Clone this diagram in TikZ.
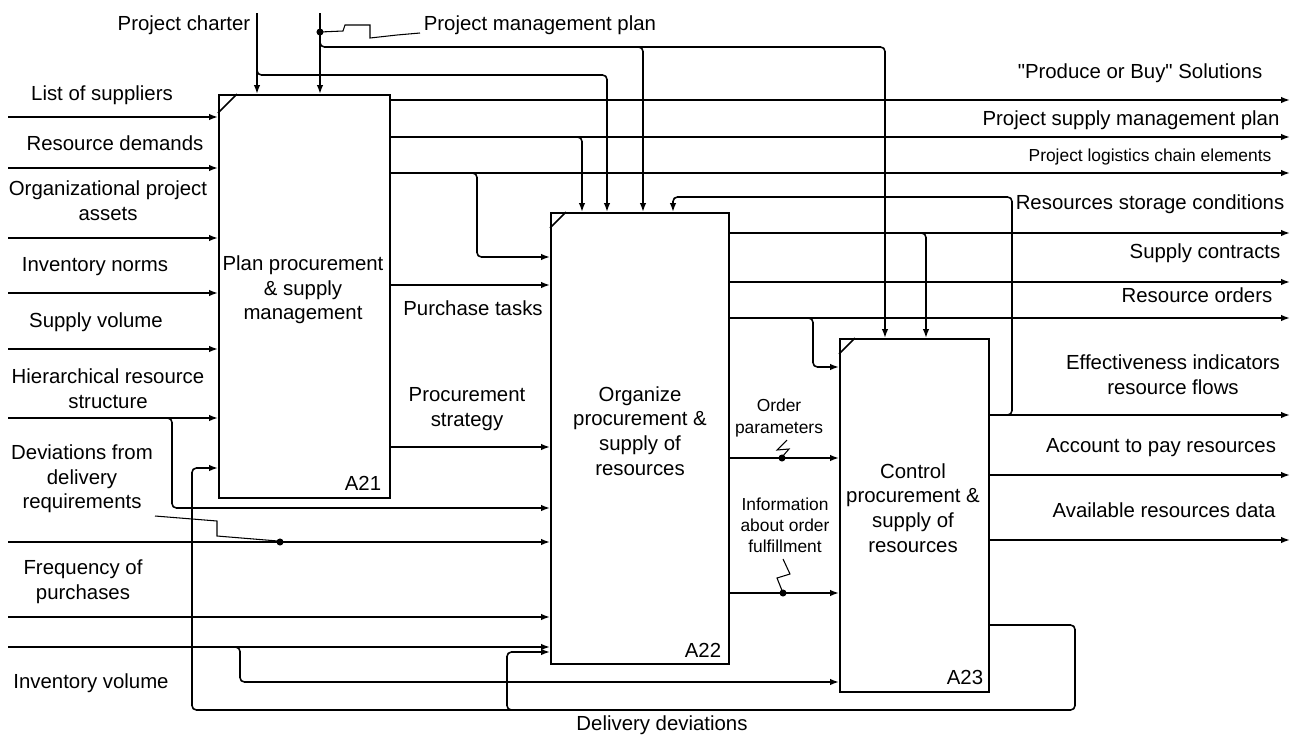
\documentclass[tikz,border=0pt]{standalone}
\usepackage{fontspec}
\setmainfont{Liberation Sans}[Ligatures=TeXOff]
\usetikzlibrary{arrows.meta}
\begin{document}
\begin{tikzpicture}[x=0.02cm,y=-0.02cm,
  line width=0.9pt,
  arr/.style={-{Latex[length=5pt,width=3.6pt]}},
  box/.style={draw, line width=1pt, anchor=north west, inner sep=0pt},
  big/.style={font=\fontsize{11.6}{14}\selectfont, align=center, inner sep=0pt},
  small/.style={font=\fontsize{9.9}{12}\selectfont, align=center, inner sep=0pt},
  rc/.style={rounded corners=2.5pt},
  lead/.style={line width=0.6pt},
  dot/.style={circle, fill, inner sep=0pt, minimum size=4pt}
]
\useasboundingbox (0,0) rectangle (1295,738);

% activity boxes
\node[box, minimum width=3.42cm, minimum height=8.06cm] (A21) at (218,94) {};
\node[box, minimum width=3.56cm, minimum height=9.02cm] (A22) at (550,212) {};
\node[box, minimum width=2.98cm, minimum height=7.06cm] (A23) at (839,338) {};
\draw ([yshift=-0.38cm]A21.north west) -- ([xshift=0.38cm]A21.north west);
\draw ([yshift=-0.32cm]A22.north west) -- ([xshift=0.32cm]A22.north west);
\draw ([yshift=-0.32cm]A23.north west) -- ([xshift=0.32cm]A23.north west);

\node[big] (t21) at (303,290) {Plan procurement\\\& supply\\management};
\node[big] (t22) at (640,431) {Organize\\procurement \&\\supply of\\resources};
\node[big] (t23) at (913,508) {Control\\procurement \&\\supply of\\resources};
\node[big] (n21) at (363,483) {A21};
\node[big] (n22) at (703,650) {A22};
\node[big] (n23) at (965,677) {A23};

% inputs to A21
\foreach \n/\y in {a/117,b/168,c/238,d/293,e/349,f/418}{
  \coordinate (in\n) at (8,\y);
  \draw[arr] (in\n) -- (in\n -| A21.west);
}
\draw[arr,rc] (166,418) -- (172,418) -- (172,508) -- (A22.west |- 0,508);

% inputs to A22
\coordinate (dev) at (8,542); \draw[arr] (dev) -- (dev -| A22.west);
\coordinate (frq) at (8,617); \draw[arr] (frq) -- (frq -| A22.west);
\coordinate (inv) at (8,647); \draw[arr] (inv) -- (inv -| A22.west);
\draw[arr,rc] (234,647) -- (240,647) -- (240,682) -- (A23.west |- 0,682);

\draw[lead] (155,516) -- (217,521) -- (217,536) -- (278,541);
\node[dot] (d1) at (280,542) {};

% feedback: delivery deviations
\draw[arr,rc] (A23.east |- 0,625) -- (1075,625) -- (1075,710) -- (192,710) -- (192,468) -- (A21.west |- 0,468);
\draw[arr,rc] (513,710) -- (507,710) -- (507,652) -- (A22.west |- 0,652);

% controls from top
\coordinate (pc) at (257,13); \draw[arr] (pc) -- (pc |- A21.north);
\draw[arr,rc] (257,62) -- (257,75) -- (607,75) -- (A22.north -| 607,0);
\coordinate (pm) at (320,13); \draw[arr] (pm) -- (pm |- A21.north);
\draw[arr,rc] (320,38) -- (320,47) -- (885,47) -- (A23.north -| 885,0);
\draw[arr,rc] (637,47) -- (643,47) -- (A22.north -| 643,0);
\node[dot] (d2) at (320,32) {};
\draw[lead] (320,32) -- (343,31) -- (345,25) -- (370,25) -- (370,38) -- (397,35) -- (420,33);

% outputs of A21
\coordinate (o1) at (1290,100); \draw[arr] (A21.east |- o1) -- (o1);
\coordinate (o2) at (1290,137); \draw[arr] (A21.east |- o2) -- (o2);
\draw[arr,rc] (576,137) -- (582,137) -- (A22.north -| 582,0);
\coordinate (o3) at (1290,173); \draw[arr] (A21.east |- o3) -- (o3);
\draw[arr,rc] (471,173) -- (477,173) -- (477,257) -- (A22.west |- 0,257);
\draw[arr] (A21.east |- 0,285) -- (A22.west |- 0,285);
\draw[arr] (A21.east |- 0,447) -- (A22.west |- 0,447);

% outputs of A22
\coordinate (o4) at (1290,233); \draw[arr] (A22.east |- o4) -- (o4);
\draw[arr,rc] (920,233) -- (926,233) -- (A23.north -| 926,0);
\coordinate (o5) at (1290,282); \draw[arr] (A22.east |- o5) -- (o5);
\coordinate (o6) at (1290,318); \draw[arr] (A22.east |- o6) -- (o6);
\draw[arr,rc] (807,318) -- (813,318) -- (813,367) -- (A23.west |- 0,367);
\draw[arr] (A22.east |- 0,458) -- (A23.west |- 0,458);
\draw[arr] (A22.east |- 0,593) -- (A23.west |- 0,593);
\draw[lead] (787,440) -- (777,450) -- (789,449) -- (782,457);
\node[dot] (d3) at (782,458) {};
\draw[lead] (783,559) -- (790,574) -- (777,578) -- (783,593);
\node[dot] (d4) at (783,593) {};

% outputs of A23
\coordinate (o7) at (1290,415); \draw[arr] (A23.east |- o7) -- (o7);
\draw[arr,rc] (1006,415) -- (1012,415) -- (1012,197) -- (673,197) -- (A22.north -| 673,0);
\coordinate (o8) at (1290,475); \draw[arr] (A23.east |- o8) -- (o8);
\coordinate (o9) at (1290,540); \draw[arr] (A23.east |- o9) -- (o9);

% labels
\node[big, anchor=east] (lpc) at (251,25) {Project charter};
\node[big, anchor=west] (lpm) at (423,25) {Project management plan};
\node[big] (l1) at (102,95) {List of suppliers};
\node[big] (l2) at (115,143) {Resource demands};
\node[big] (l3) at (108,201) {Organizational project\\assets};
\node[big] (l4) at (95,267) {Inventory norms};
\node[big] (l5) at (96,322) {Supply volume};
\node[big] (l6) at (108,389) {Hierarchical resource\\structure};
\node[big] (l7) at (82,479) {Deviations from\\delivery\\requirements};
\node[big] (l8) at (83,582) {Frequency of\\purchases};
\node[big] (l9) at (91,683) {Inventory volume};
\node[big] (l10) at (473,308) {Purchase tasks};
\node[big] (l11) at (467,409) {Procurement\\strategy};
\node[big] (l12) at (1140,73) {"Produce or Buy" Solutions};
\node[big] (l13) at (1131,120) {Project supply management plan};
\node[small] (l14) at (1150,157) {Project logistics chain elements};
\node[big] (l15) at (1150,204) {Resources storage conditions};
\node[big] (l16) at (1205,253) {Supply contracts};
\node[big] (l17) at (1197,295) {Resource orders};
\node[big] (l18) at (1173,375) {Effectiveness indicators\\resource flows};
\node[big] (l19) at (1161,448) {Account to pay resources};
\node[big] (l20) at (1164,510) {Available resources data};
\node[small] (l21) at (779,418) {Order\\parameters};
\node[small] (l22) at (785,525) {Information\\about order\\fulfillment};
\node[big] (l23) at (662,725) {Delivery deviations};
\end{tikzpicture}
\end{document}
